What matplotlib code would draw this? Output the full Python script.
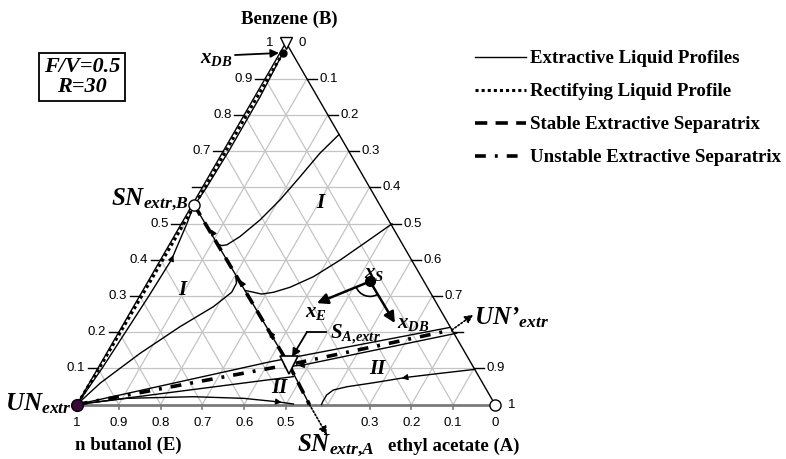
import numpy as np
import matplotlib
matplotlib.use('Agg')
import matplotlib.pyplot as plt
from matplotlib.lines import Line2D
from matplotlib.patches import Arc

plt.rcParams['font.family'] = ['Liberation Serif', 'DejaVu Serif']
plt.rcParams['mathtext.fontset'] = 'custom'
plt.rcParams['mathtext.it'] = 'Liberation Serif:italic:bold'
plt.rcParams['mathtext.rm'] = 'Liberation Serif:bold'
plt.rcParams['mathtext.bf'] = 'Liberation Serif:bold'

# compositions: A = ethyl acetate, B = benzene, E = n butanol = 1 - A - B
grid_vals = [0.1, 0.2, 0.3, 0.4, 0.5, 0.6, 0.7, 0.8, 0.9]
bottom_E = [1.0, 0.9, 0.8, 0.7, 0.6, 0.5, 0.3, 0.2, 0.1, 0.0]
bottom_labels = ['1', '0.9', '0.8', '0.7', '0.6', '0.5', '0.3', '0.2', '0.1', '0']
left_B = [0.1, 0.2, 0.3, 0.4, 0.5, 0.7, 0.8, 0.9, 1.0]
left_labels = ['0.1', '0.2', '0.3', '0.4', '0.5', '0.7', '0.8', '0.9', '1']
right_A = [0.0, 0.1, 0.2, 0.3, 0.4, 0.5, 0.6, 0.7, 0.9, 1.0]
right_labels = ['0', '0.1', '0.2', '0.3', '0.4', '0.5', '0.6', '0.7', '0.9', '1']

# special points (A, B)
UN_extr = (0.0, 0.0)
SN_B = (0.004, 0.552)
S_A = (0.452, 0.110)
x_DB = (0.007, 0.972)
x_S = (0.531, 0.340)
x_S_to_E = (0.434, 0.280)
x_S_to_DB = (0.648, 0.225)

# rectifying liquid profile
rect_A = [0.007, 0.006, 0.006, 0.005, 0.003, 0.0]
rect_B = [0.972, 0.80, 0.55, 0.30, 0.10, 0.0]

# extractive liquid profiles
top_A = [0.007, 0.013, 0.013, 0.010, 0.006]
top_B = [0.972, 0.85, 0.70, 0.60, 0.552]
edge_A = [0.0, 0.010, 0.016, 0.022, 0.026, 0.013, 0.004]
edge_B = [0.0, 0.10, 0.20, 0.30, 0.40, 0.50, 0.552]
p1_A = [0.0, 0.026, 0.080, 0.139, 0.191, 0.215, 0.214, 0.204]
p1_B = [0.0, 0.059, 0.141, 0.215, 0.270, 0.310, 0.335, 0.352]
p2_A = [0.504, 0.468, 0.430, 0.389, 0.348, 0.315, 0.289, 0.272, 0.245]
p2_B = [0.499, 0.450, 0.399, 0.353, 0.324, 0.310, 0.305, 0.309, 0.315]
p3_A = [0.254, 0.234, 0.219, 0.203, 0.183, 0.158, 0.138, 0.127, 0.118]
p3_B = [0.746, 0.694, 0.629, 0.565, 0.510, 0.464, 0.441, 0.439, 0.442]
sep_thin_A = [0.556, 0.452, 0.004]
sep_thin_B = [0.0, 0.110, 0.552]
p4_A = [0.0, 0.110, 0.267, 0.390, 0.474, 0.517]
p4_B = [0.0, 0.017, 0.0215, 0.017, 0.0077, 0.0014]
p5_A = [0.903, 0.825, 0.751, 0.679, 0.621, 0.593, 0.584, 0.584, 0.585]
p5_B = [0.097, 0.086, 0.075, 0.060, 0.049, 0.040, 0.026, 0.008, 0.0]
p6_A = [0.0, 0.403, 0.786]
p6_B = [0.0, 0.118, 0.213]
p7_A = [0.810, 0.486, 0.462]
p7_B = [0.197, 0.109, 0.106]
p8_A = [0.0, 0.479]
p8_B = [0.0, 0.077]

# separatrices
stab_A = [0.004, 0.452, 0.556]
stab_B = [0.552, 0.110, 0.0]
stab_out_A = [0.556, 0.640]
stab_out_B = [0.0, -0.084]
unst_A = [0.0, 0.452, 0.794]
unst_B = [0.0, 0.110, 0.206]
unst_out_A = [0.794, 0.824]
unst_out_B = [0.206, 0.248]

legend_labels = ['Extractive Liquid Profiles', 'Rectifying Liquid Profile',
                 'Stable Extractive Separatrix', 'Unstable Extractive Separatrix']


def tern(a, b):
    a = np.asarray(a, dtype=float)
    b = np.asarray(b, dtype=float)
    return a + 0.5 * b, np.sqrt(3) / 2 * b


fig = plt.figure(figsize=(7.86, 4.59), dpi=100)
ax = fig.add_axes([0, 0, 1, 1])
side, x0, y0 = 418.0, 77.0, 404.5   # triangle placement in pixels
ax.set_xlim(-x0 / side, (786 - x0) / side)
ax.set_ylim(-(459 - y0) / side, y0 / side)
ax.axis('off')


def px(x, y):
    return (x - x0) / side, (y0 - y) / side


GRID = '#c4c4c4'
for v in grid_vals:
    ax.plot(*tern([0, 1 - v], [v, v]), color=GRID, lw=0.9, zorder=1)
    ax.plot(*tern([v, v], [0, 1 - v]), color=GRID, lw=0.9, zorder=1)
    ax.plot(*tern([1 - v, 0], [0, 1 - v]), color=GRID, lw=0.9, zorder=1)

ax.plot(*tern([0, 0], [0, 1]), color='k', lw=1.0, zorder=2)
ax.plot(*tern([1, 0], [0, 1]), color='k', lw=1.0, zorder=2)
ax.plot(*tern([0, 1], [0, 0]), color='#7a7a7a', lw=2.0, zorder=2)

tick_font = dict(family='Liberation Sans', size=9.5)
for e, lab in zip(bottom_E, bottom_labels):
    x, y = tern(1 - e, 0)
    ax.plot([x, x], [y, y - 0.011], color='#7a7a7a', lw=1.2, zorder=2)
    ax.text(x, -0.045, lab, ha='center', va='center', **tick_font)
for v in grid_vals:
    x, y = tern(0, v)
    ax.plot([x - 0.024, x], [y, y], color='k', lw=1.0, zorder=2)
for b, lab in zip(left_B, left_labels):
    x, y = tern(0, b)
    ax.text(x - 0.03, y, lab, ha='right', va='center', **tick_font)
for a, lab in zip(right_A, right_labels):
    x, y = tern(a, 1 - a)
    if 0 < a < 1:
        ax.plot([x, x + 0.024], [y, y], color='k', lw=1.0, zorder=2)
    ax.text(x + 0.03, y, lab, ha='left', va='center', **tick_font)
x, y = tern(0.8, 0.2)
ax.plot([x, x + 0.024], [y, y], color='k', lw=1.0, zorder=2)

# profiles
thin = dict(color='k', lw=1.0, zorder=3)
for a, b in [(top_A, top_B), (edge_A, edge_B), (p1_A, p1_B), (p2_A, p2_B), (p3_A, p3_B),
             (sep_thin_A, sep_thin_B), (p4_A, p4_B), (p5_A, p5_B), (p6_A, p6_B),
             (p7_A, p7_B), (p8_A, p8_B)]:
    ax.plot(*tern(a, b), **thin)

ax.plot(*tern(rect_A, rect_B), color='k', lw=2.2, ls=(0, (1, 1)), zorder=4)
ax.plot(*tern(stab_A, stab_B), color='k', lw=2.6, ls=(0, (3.4, 2.3)), zorder=4)
ax.plot(*tern(unst_A, unst_B), color='k', lw=2.6, ls=(0, (3, 2.5, 0.8, 2.5)), zorder=4)


def head(a, b, i, scale=9):
    xs, ys = tern(a, b)
    dx, dy = xs[i + 1] - xs[i], ys[i + 1] - ys[i]
    n = np.hypot(dx, dy)
    ax.annotate('', xy=(xs[i] + dx / n * 0.012, ys[i] + dy / n * 0.012), xytext=(xs[i], ys[i]),
                arrowprops=dict(arrowstyle='-|>', color='k', lw=0.8, mutation_scale=scale,
                                shrinkA=0, shrinkB=0), zorder=5)


# arrowheads along profiles (direction of integration)
sepA_up = [0.452, 0.37, 0.30, 0.23, 0.16, 0.09, 0.03]
sepB_up = [0.110, 0.192, 0.262, 0.332, 0.402, 0.472, 0.532]
for i in [1, 3, 5]:
    head(sepA_up, sepB_up, i)
head(edge_A, edge_B, 4)
head([p4_A[-2], p4_A[-1]], [p4_B[-2], p4_B[-1]], 0)
head(p5_A, p5_B, 2)
head(p7_A, p7_B, 1)

# dotted arrows leaving the triangle
for a, b in [(stab_out_A, stab_out_B), (unst_out_A, unst_out_B)]:
    xs, ys = tern(a, b)
    ax.annotate('', xy=(xs[1], ys[1]), xytext=(xs[0], ys[0]),
                arrowprops=dict(arrowstyle='-|>', color='k', lw=1.2, ls=(0, (1, 1.2)),
                                mutation_scale=12, shrinkA=0, shrinkB=0), zorder=5)

# markers
mk = dict(zorder=6, clip_on=False)
ax.plot(*tern(*UN_extr), 'o', ms=8.5, mfc='#3a0a3a', mec='k', mew=1.0, **mk)
ax.plot(*tern(*SN_B), 'o', ms=8, mfc='white', mec='k', mew=1.0, **mk)
ax.plot(*tern(1, 0), 'o', ms=8, mfc='white', mec='k', mew=1.0, **mk)
ax.plot(*tern(0, 1), 'v', ms=9, mfc='white', mec='k', mew=1.0, **mk)
ax.plot(*tern(*S_A), 'v', ms=13, mfc='white', mec='k', mew=1.2, zorder=7, clip_on=False)
ax.plot(*tern(*x_DB), 'o', ms=5, mfc='k', mec='k', **mk)
ax.plot(*tern(*x_S), 'o', ms=7, mfc='k', mec='k', **mk)

# vectors at x_S
xs0, ys0 = tern(*x_S)
for tgt in [x_S_to_E, x_S_to_DB]:
    xt, yt = tern(*tgt)
    ax.annotate('', xy=(xt, yt), xytext=(xs0, ys0),
                arrowprops=dict(arrowstyle='-|>', color='k', lw=1.8, mutation_scale=16,
                                shrinkA=0, shrinkB=0), zorder=5)
r = 15 / side
ax.add_patch(Arc((xs0, ys0), 2 * r, 2 * r, theta1=201, theta2=301, lw=1.2, color='k', zorder=5))

# pointer annotations
ax.annotate('', xy=px(279, 53), xytext=px(235, 55),
            arrowprops=dict(arrowstyle='-|>', color='k', lw=1.3, mutation_scale=12,
                            shrinkA=0, shrinkB=0))
ax.plot(*zip(px(326, 332), px(307, 332)), color='k', lw=1.3, zorder=8)
ax.annotate('', xy=px(292, 357), xytext=px(307, 332),
            arrowprops=dict(arrowstyle='-|>', color='k', lw=1.3, mutation_scale=12,
                            shrinkA=0, shrinkB=0), zorder=8)

# labels
bold = dict(weight='bold', size=13.5)
ax.text(*px(289, 19), 'Benzene (B)', ha='center', va='center', **bold)
ax.text(*px(128, 445), 'n butanol (E)', ha='center', va='center', **bold)
ax.text(*px(454, 446), 'ethyl acetate (A)', ha='center', va='center', **bold)

bi = dict(weight='bold', style='italic')
ax.text(*px(72, 404), r'UN$_{extr}$', ha='right', va='center', size=18, **bi)
ax.text(*px(189, 200), r'SN$_{extr{,}B}$', ha='right', va='center', size=18, **bi)
ax.text(*px(297, 446), r'SN$_{extr{,}A}$', ha='left', va='center', size=18, **bi)
ax.text(*px(474, 318), r'UN’$_{extr}$', ha='left', va='center', size=18, **bi)
ax.text(*px(330, 334), r'S$_{A{,}extr}$', ha='left', va='center', size=15, **bi)
ax.text(*px(233, 58), r'x$_{DB}$', ha='right', va='center', size=15, **bi)
ax.text(*px(397, 323), r'x$_{DB}$', ha='left', va='center', size=15, **bi)
ax.text(*px(374, 273), r'x$_{S}$', ha='center', va='center', size=15, **bi)
ax.text(*px(316, 312), r'x$_{E}$', ha='center', va='center', size=15, **bi)
for (lx, ly), t in [((182, 290), 'I'), ((320, 203), 'I'), ((377, 369), 'II'), ((279, 388), 'II')]:
    ax.text(*px(lx, ly), t, ha='center', va='center', size=15, **bi)

ax.text(*px(82, 77), 'F/V=0.5\nR=30', ha='center', va='center', size=16, linespacing=1.0,
        bbox=dict(boxstyle='square,pad=0.2', fc='white', ec='k', lw=1.3), **bi)

handles = [Line2D([], [], color='k', lw=1.0),
           Line2D([], [], color='k', lw=2.2, ls=(0, (1, 1))),
           Line2D([], [], color='k', lw=2.6, ls=(0, (3.4, 2.3))),
           Line2D([], [], color='k', lw=2.6, ls=(0, (3, 2.5, 0.8, 2.5)))]
fig.legend(handles, legend_labels, loc='upper left', bbox_to_anchor=(475 / 786, 1 - 50 / 459),
           frameon=False, prop=dict(family='Liberation Serif', weight='bold', size=13.6),
           handlelength=2.7, handletextpad=0.2, labelspacing=0.84, borderpad=0,
           borderaxespad=0)

fig.savefig('out.png', dpi=100)
